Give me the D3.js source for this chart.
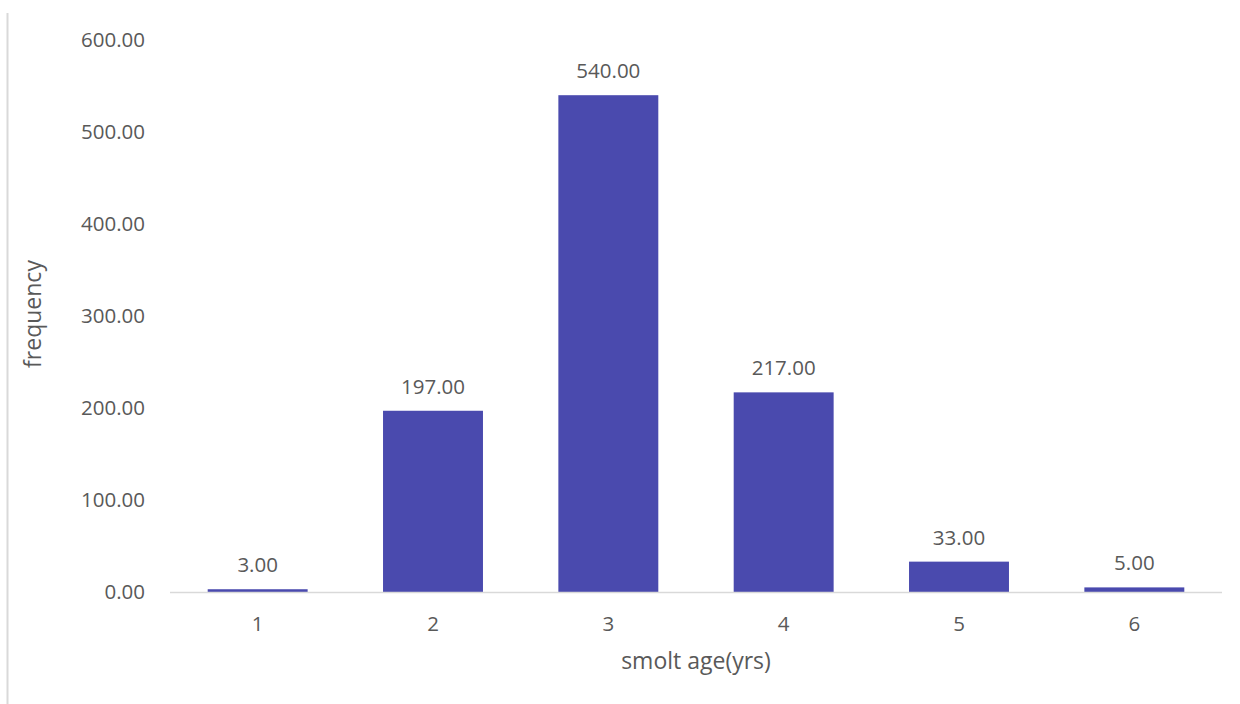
<!DOCTYPE html>
<html>
<head>
<meta charset="utf-8">
<script src="https://cdn.jsdelivr.net/npm/d3@7"></script>
<style>
  body { margin: 0; background: #fff; }
  svg text { font-family: "Open Sans", sans-serif; fill: #595959; }
</style>
</head>
<body>
<svg id="chart" width="1240" height="704"></svg>
<script>
var ages = ["1", "2", "3", "4", "5", "6"];
var counts = [3, 197, 540, 217, 33, 5];
var yTicks = [0, 100, 200, 300, 400, 500, 600];

var svg = d3.select("svg#chart");

// outer frame line on the left
svg.append("line")
    .attr("x1", 7.5).attr("x2", 7.5)
    .attr("y1", 13).attr("y2", 704)
    .style("stroke", "#d9d9d9")
    .style("stroke-width", 2);

var margin = { left: 170, right: 18, top: 40, bottom: 112 };
var width = 1240 - margin.left - margin.right;
var height = 704 - margin.top - margin.bottom;

var g = svg.append("g")
    .attr("transform", "translate(" + margin.left + "," + margin.top + ")");

var xScale = d3.scaleBand()
    .domain(ages)
    .range([0, width])
    .paddingInner(0.43)
    .paddingOuter(0.215);

var yScale = d3.scaleLinear()
    .domain([0, 600])
    .range([height, 0]);

// y tick labels
g.selectAll("text.ytick")
    .data(yTicks)
    .enter()
    .append("text")
    .attr("class", "ytick")
    .attr("x", -25)
    .attr("y", d => yScale(d))
    .attr("dy", "0.35em")
    .style("text-anchor", "end")
    .style("font-size", "20.5px")
    .text(d => d3.format(".2f")(d));

// bars
g.selectAll("rect.bar")
    .data(counts)
    .enter()
    .append("rect")
    .attr("class", "bar")
    .attr("x", (d, i) => xScale(ages[i]))
    .attr("y", d => yScale(d))
    .attr("width", xScale.bandwidth())
    .attr("height", d => height - yScale(d))
    .style("fill", "#4a4aae");

// baseline
g.append("line")
    .attr("x1", 0).attr("x2", width)
    .attr("y1", height + 0.5).attr("y2", height + 0.5)
    .style("stroke", "#d9d9d9")
    .style("stroke-width", 1.5);

// value labels
g.selectAll("text.val")
    .data(counts)
    .enter()
    .append("text")
    .attr("class", "val")
    .attr("x", (d, i) => xScale(ages[i]) + xScale.bandwidth() / 2)
    .attr("y", d => yScale(d) - 17)
    .style("text-anchor", "middle")
    .style("font-size", "20.5px")
    .text(d => d3.format(".2f")(d));

// x tick labels
g.selectAll("text.xtick")
    .data(ages)
    .enter()
    .append("text")
    .attr("class", "xtick")
    .attr("x", d => xScale(d) + xScale.bandwidth() / 2)
    .attr("y", height + 39)
    .style("text-anchor", "middle")
    .style("font-size", "20.5px")
    .text(d => d);

// axis titles
svg.append("text")
    .attr("x", margin.left + width / 2)
    .attr("y", 669)
    .style("text-anchor", "middle")
    .style("font-size", "23px")
    .text("smolt age(yrs)");

svg.append("text")
    .attr("transform", "translate(41," + (margin.top + height / 2 - 2) + ") rotate(-90)")
    .style("text-anchor", "middle")
    .style("font-size", "23px")
    .text("frequency");
</script>
</body>
</html>
